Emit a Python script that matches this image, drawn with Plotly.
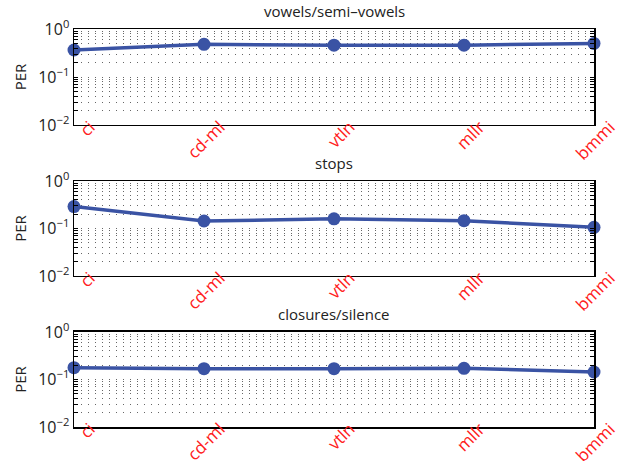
import plotly.graph_objects as go

categories = ["ci", "cd-ml", "vtln", "mllr", "bmmi"]
titles = ["vowels/semi\u2013vowels", "stops", "closures/silence"]
vowels = [0.365, 0.48, 0.46, 0.46, 0.50]
stops = [0.29, 0.144, 0.16, 0.146, 0.106]
closures = [0.177, 0.169, 0.169, 0.172, 0.144]
series = [vowels, stops, closures]
# log grid positions (1..9 x 10^k) with labels only at decades
ytick_vals = [0.01, 0.02, 0.03, 0.04, 0.05, 0.06, 0.07, 0.08, 0.09,
              0.1, 0.2, 0.3, 0.4, 0.5, 0.6, 0.7, 0.8, 0.9, 1]
ytick_text = ["10<sup>\u22122</sup>", "", "", "", "", "", "", "", "",
              "10<sup>\u22121</sup>", "", "", "", "", "", "", "", "",
              "10<sup>0</sup>"]

FONT = "Open Sans"
BLUE = "#3a53a4"
domains = [(0.7588, 1.0), (0.3794, 0.618), (0.0, 0.2387)]

fig = go.Figure()
layout = dict(
    width=624, height=461,
    margin=dict(l=74, r=30, t=29, b=34, autoexpand=False),
    paper_bgcolor="white", plot_bgcolor="white",
    showlegend=False,
    font=dict(family=FONT, size=13, color="#222"),
)
annotations = []
xs = list(range(len(categories)))
for i, (vals, title, dom) in enumerate(zip(series, titles, domains)):
    n = "" if i == 0 else str(i + 1)
    fig.add_trace(go.Scatter(
        x=xs, y=vals, mode="lines+markers",
        line=dict(color=BLUE, width=3.5),
        marker=dict(color=BLUE, size=13),
        cliponaxis=False,
        xaxis="x" + n, yaxis="y" + n,
    ))
    layout["xaxis" + n] = dict(
        domain=[0, 1], anchor="y" + n, range=[0, 4],
        tickmode="array", tickvals=xs, ticktext=categories,
        tickangle=-45, ticklabelshift=16, ticklabelstandoff=-16,
        tickfont=dict(color="#ff2020", size=17, family=FONT),
        showgrid=False, zeroline=False, automargin=False,
        showline=True, linecolor="black", linewidth=1.5, mirror=True,
        ticks="", fixedrange=True,
    )
    layout["yaxis" + n] = dict(
        domain=list(dom), anchor="x" + n, type="log", range=[-2, 0],
        tickmode="array", tickvals=ytick_vals, ticktext=ytick_text,
        tickfont=dict(size=16, color="#222", family=FONT),
        ticks="inside", ticklen=4, tickcolor="black", tickwidth=1,
        showline=True, linecolor="black", linewidth=1.5, mirror="allticks",
        showgrid=True, gridcolor="#666", griddash="1px,6px", gridwidth=1,
        title=dict(text="PER", font=dict(size=15, color="#222", family=FONT), standoff=8),
        zeroline=False, fixedrange=True, automargin=False,
    )
    annotations.append(dict(
        text=title, xref="paper", yref="paper", x=0.5, y=dom[1],
        yanchor="bottom", xanchor="center", yshift=6, showarrow=False,
        font=dict(size=15, color="#222", family=FONT),
    ))
layout["annotations"] = annotations
fig.update_layout(**layout)
fig.write_html("out.html",
               config={"displayModeBar": False, "staticPlot": True},
               post_script="document.body.style.margin='0px';document.body.style.overflow='hidden';")
